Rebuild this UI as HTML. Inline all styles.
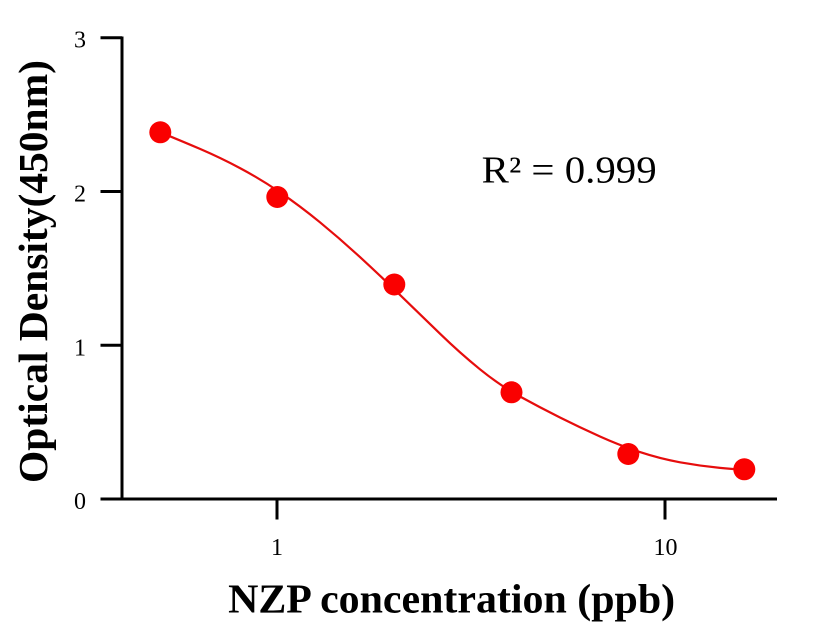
<!DOCTYPE html>
<html>
<head>
<meta charset="utf-8">
<style>
  html, body { margin: 0; padding: 0; background: #ffffff; }
  svg { display: block; }
  text { font-family: "Liberation Serif", "Times New Roman", serif; fill: #000; }
</style>
</head>
<body>
<svg width="816" height="640" viewBox="0 0 816 640" xmlns="http://www.w3.org/2000/svg">
  <rect width="816" height="640" fill="#ffffff"/>

  <!-- Axes -->
  <line x1="122" y1="36.5" x2="122" y2="500.5" stroke="#000" stroke-width="3"/>
  <line x1="100.5" y1="499" x2="777" y2="499" stroke="#000" stroke-width="3"/>

  <!-- Y ticks -->
  <line x1="100.5" y1="37.7" x2="122" y2="37.7" stroke="#000" stroke-width="3"/>
  <line x1="100.5" y1="191.5" x2="122" y2="191.5" stroke="#000" stroke-width="3"/>
  <line x1="100.5" y1="345.3" x2="122" y2="345.3" stroke="#000" stroke-width="3"/>

  <!-- X ticks -->
  <line x1="277" y1="499" x2="277" y2="519.5" stroke="#000" stroke-width="3"/>
  <line x1="665" y1="499" x2="665" y2="519.5" stroke="#000" stroke-width="3"/>

  <!-- Y tick labels -->
  <text x="86" y="47.7" font-size="24" text-anchor="end">3</text>
  <text x="86" y="201.5" font-size="24" text-anchor="end">2</text>
  <text x="86" y="355.3" font-size="24" text-anchor="end">1</text>
  <text x="86" y="509" font-size="24" text-anchor="end">0</text>

  <!-- X tick labels -->
  <text x="277" y="555" font-size="24" text-anchor="middle">1</text>
  <text x="665.5" y="555" font-size="24" text-anchor="middle">10</text>

  <!-- Axis titles -->
  <text x="451.6" y="612.7" font-size="41" font-weight="bold" text-anchor="middle" textLength="447" lengthAdjust="spacingAndGlyphs">NZP concentration (ppb)</text>
  <text transform="translate(47,271.5) rotate(-90)" x="0" y="0" font-size="41" font-weight="bold" text-anchor="middle" textLength="423" lengthAdjust="spacingAndGlyphs">Optical Density(450nm)</text>

  <!-- R² annotation -->
  <text x="481.7" y="182.7" font-size="38" textLength="175" lengthAdjust="spacingAndGlyphs">R² = 0.999</text>

  <!-- Fitted curve -->
  <path d="M160.2,132.3
           C173.33,137.63 186.67,143.17 200,148.9
           C213.33,154.63 226.67,161.03 240,168.1
           C253.33,175.17 266.67,183.23 280,192.3
           C293.33,201.37 306.67,211.37 320,222.3
           C333.33,233.23 346.67,244.83 360,257.1
           C373.33,269.37 386.67,281.97 400,294.9
           C413.33,307.83 426.67,320.77 440,333.7
           C453.33,346.63 466.67,358.5 480,369.3
           C493.33,380.1 506.67,389.17 520,396.5
           C533.33,403.83 546.67,410.83 560,417.5
           C573.33,424.17 586.67,430.5 600,436.5
           C613.33,442.5 626.67,447.7 640,452.1
           C653.33,456.5 666.67,459.9 680,462.3
           C693.33,464.7 706.67,466.57 720,467.9
           C728,468.7 736,469.34 744,469.9"
        fill="none" stroke="#e60d0d" stroke-width="2.2" stroke-linejoin="round" stroke-linecap="round"/>

  <!-- Data points -->
  <g fill="#fa0000">
    <circle cx="160.3" cy="132.3" r="11"/>
    <circle cx="277.3" cy="197.0" r="11"/>
    <circle cx="394.3" cy="284.5" r="11"/>
    <circle cx="511.5" cy="392.3" r="11"/>
    <circle cx="628.3" cy="454.0" r="11"/>
    <circle cx="744.3" cy="469.3" r="11"/>
  </g>
</svg>
</body>
</html>
